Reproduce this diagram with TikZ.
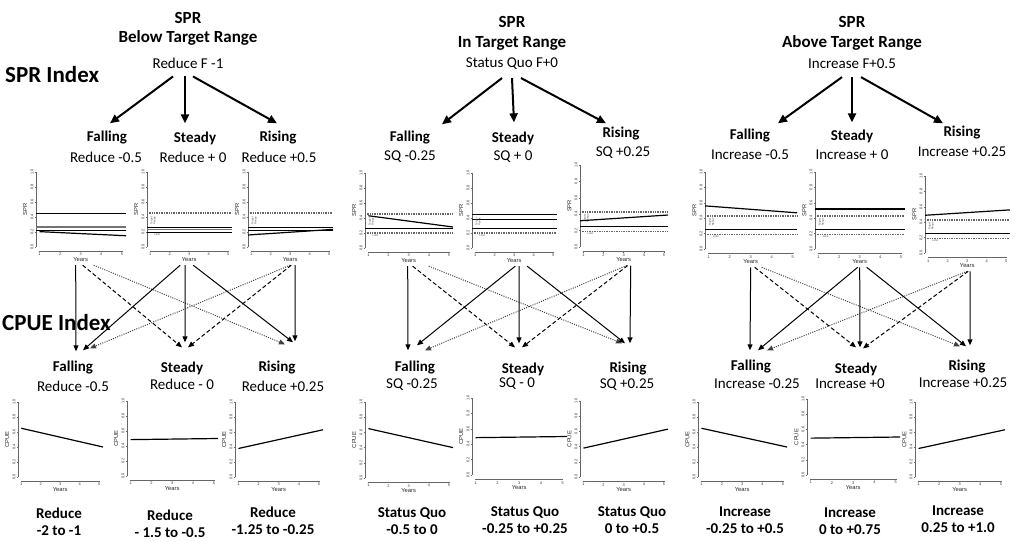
\documentclass[tikz,border=0pt]{standalone}
\usepackage{fontspec}
\setmainfont{Carlito}
\newfontfamily\plotfont{Liberation Sans}
\usepackage{tikz}
\usetikzlibrary{arrows.meta}

\tikzset{
  ttl/.style={font=\bfseries\fontsize{17}{20}\selectfont, inner sep=1pt},
  idx/.style={font=\bfseries\fontsize{23}{26}\selectfont, inner sep=0pt, anchor=west},
  act/.style={font=\fontsize{15}{18}\selectfont, inner sep=1pt},
  trend/.style={font=\bfseries\fontsize{15}{18}\selectfont, inner sep=1pt},
  adj/.style={font=\fontsize{15}{18}\selectfont, inner sep=1pt},
  rule/.style={font=\bfseries\fontsize{15}{17}\selectfont, inner sep=1pt, align=center},
  bigarr/.style={line width=2pt, -{Triangle[length=9pt,width=8pt]}},
  solidarr/.style={line width=1pt, -{Triangle[length=6pt,width=5pt]}},
  dasharr/.style={solidarr, dash pattern=on 4pt off 2.5pt},
  dotarr/.style={solidarr, black!75, dash pattern=on 1pt off 1.3pt},
  axisln/.style={black!60, line width=0.45pt},
  ticktxt/.style={font=\plotfont\fontsize{3.9}{4.5}\selectfont, text=black!80, inner sep=0.3pt},
  axtxt/.style={font=\plotfont\fontsize{5.8}{6.5}\selectfont, text=black!85, inner sep=0.5pt},
  notetxt/.style={font=\plotfont\fontsize{2.6}{3}\selectfont, text=black!75, inner sep=0.2pt},
  trendln/.style={line width=1.2pt, black},
  refsolid/.style={line width=1pt, black},
  refgray/.style={line width=1.3pt, black!55},
  refdot/.style={line width=1.7pt, black!60, dash pattern=on 1pt off 0.7pt}
}

% small R-style chart: name, left x, zero line y, width, height, y title, lines
\newcommand{\minichart}[7]{%
  \pgfmathsetmacro{\chux}{#4/4.37}%
  \pgfmathsetmacro{\chx}{#2-0.83*\chux}%
  \begin{scope}[shift={(\chx,#3)}, x=\chux pt, y=#5 pt]
    \draw[axisln] (0.83,0) -- (0.83,1);
    \foreach \i/\ticklab in {0/0.0,1/0.2,2/0.4,3/0.6,4/0.8,5/1.0}{
      \draw[axisln] (0.83,\i/5) -- ++(-1.5pt,0pt);
      \node[ticktxt, rotate=90, anchor=south] (#1-y\i) at ([xshift=-2pt]0.83,\i/5) {\ticklab};
    }
    \draw[axisln] (1,-0.05) -- (5,-0.05);
    \foreach \i in {1,...,5}{
      \draw[axisln] (\i,-0.05) -- ++(0pt,-1.5pt);
      \node[ticktxt, anchor=north] (#1-x\i) at ([yshift=-2pt]\i,-0.05) {\i};
    }
    \node[axtxt, anchor=north] (#1-yr) at ([yshift=-6pt]3,-0.05) {Years};
    \node[axtxt, rotate=90, anchor=south] (#1-lab) at ([xshift=-8pt]0.83,0.5) {#6};
    #7
  \end{scope}}
\newcommand{\refat}[2]{\draw[#1] (0.83,#2) -- (5.2,#2);}
\newcommand{\sprnotes}[1]{%
  \node[notetxt, rotate=90, align=center] (#1-tr) at (1.15,0.35) {Target\\Range};
  \node[notetxt] (#1-lim) at (1.35,0.165) {Limit};}

\begin{document}
\begin{tikzpicture}[x=1pt, y=-1pt]
\useasboundingbox (0,0) rectangle (1017,541);

% titles
\node[ttl] (ttlA) at (188,18) {SPR};
\node[ttl] (rngA) at (188,38) {Below Target Range};
\node[act] (actA) at (188,63) {Reduce F -1};
\node[ttl] (ttlB) at (512,22) {SPR};
\node[ttl] (rngB) at (512,43) {In Target Range};
\node[act] (actB) at (512,64) {Status Quo F+0};
\node[ttl] (ttlC) at (852,22) {SPR};
\node[ttl] (rngC) at (852,43) {Above Target Range};
\node[act] (actC) at (852,64) {Increase F+0.5};

\node[idx] (sprIdx) at (5,75) {SPR Index};
\node[idx] (cpueIdx) at (2,323) {CPUE Index};

% SPR trends
\node[trend] (trA1) at (107,138) {Falling};
\node[adj] (avA1) at (106,157) {Reduce -0.5};
\node[trend] (trA2) at (195,138) {Steady};
\node[adj] (avA2) at (193,157) {Reduce + 0};
\node[trend] (trA3) at (278,138) {Rising};
\node[adj] (avA3) at (279,157) {Reduce +0.5};
\node[trend] (trB1) at (410,138) {Falling};
\node[adj] (avB1) at (410,157) {SQ -0.25};
\node[trend] (trB2) at (513,138) {Steady};
\node[adj] (avB2) at (513,157) {SQ + 0};
\node[trend] (trB3) at (621,134) {Rising};
\node[adj] (avB3) at (623,153) {SQ +0.25};
\node[trend] (trC1) at (750,136) {Falling};
\node[adj] (avC1) at (750,155) {Increase -0.5};
\node[trend] (trC2) at (852,136) {Steady};
\node[adj] (avC2) at (852,155) {Increase + 0};
\node[trend] (trC3) at (962,133) {Rising};
\node[adj] (avC3) at (962,152) {Increase +0.25};

\foreach \s/\sx/\d/\dx/\dy in {actA/-15/trA1/3/7, actA/-3/trA2/-10/7, actA/5/trA3/-1/7,
    actB/-10/trB1/32/6, actB/0/trB2/1/8, actB/9/trB3/-15/3,
    actC/-10/trC1/28/5, actC/0/trC2/0/6, actC/9/trC3/-19/2}
  \draw[bigarr] ([xshift=\sx pt,yshift=-7pt]\s.south) -- ([xshift=\dx pt,yshift=\dy pt]\d.north);

% SPR charts
\minichart{sprA1}{36}{247}{90}{75}{SPR}{%
  \refat{refsolid}{0.45} \refat{refgray}{0.265} \refat{refsolid}{0.215}
  \draw[trendln] (1,0.205) -- (5.2,0.15);}
\minichart{sprA2}{147}{247}{85}{75}{SPR}{%
  \refat{refdot}{0.45} \refat{refsolid}{0.265} \refat{refgray}{0.237} \refat{refsolid}{0.2}
  \sprnotes{sprA2}}
\minichart{sprA3}{248}{247}{85}{75}{SPR}{%
  \refat{refdot}{0.45} \refat{refsolid}{0.265} \refat{refsolid}{0.215}
  \draw[trendln] (0.83,0.16) -- (5.2,0.235);
  \sprnotes{sprA3}}
\minichart{sprB1}{365}{248}{88}{75}{SPR}{%
  \refat{refdot}{0.45} \refat{refsolid}{0.265} \refat{refdot}{0.2}
  \draw[trendln] (1,0.43) -- (5.2,0.28);
  \sprnotes{sprB1}}
\minichart{sprB2}{472}{248}{85}{75}{SPR}{%
  \refat{refsolid}{0.45} \refat{trendln}{0.38} \refat{refsolid}{0.265} \refat{refdot}{0.2}
  \sprnotes{sprB2}}
\minichart{sprB3}{580}{247}{88}{82}{SPR}{%
  \refat{refdot}{0.43} \refat{refsolid}{0.25} \refat{refdot}{0.19}
  \draw[trendln] (0.83,0.32) -- (5.2,0.39);
  \sprnotes{sprB3}}
\minichart{sprC1}{705}{249}{92}{77}{SPR}{%
  \refat{refdot}{0.43} \refat{refsolid}{0.25} \refat{refdot}{0.19}
  \draw[trendln] (0.83,0.56) -- (5.2,0.47);
  \sprnotes{sprC1}}
\minichart{sprC2}{815}{249}{90}{77}{SPR}{%
  \refat{trendln}{0.52} \refat{refdot}{0.43} \refat{refsolid}{0.25} \refat{refdot}{0.19}
  \sprnotes{sprC2}}
\minichart{sprC3}{925}{253}{85}{77}{SPR}{%
  \refat{refdot}{0.43} \refat{refsolid}{0.25} \refat{refdot}{0.19}
  \draw[trendln] (0.83,0.49) -- (5.2,0.56);
  \sprnotes{sprC3}}

% CPUE trends
\node[trend] (ctA1) at (73,368) {Falling};
\node[adj] (cvA1) at (73,386) {Reduce -0.5};
\node[trend] (ctA2) at (182,368) {Steady};
\node[adj] (cvA2) at (182,384) {Reduce - 0};
\node[trend] (ctA3) at (277,368) {Rising};
\node[adj] (cvA3) at (283,386) {Reduce +0.25};
\node[trend] (ctB1) at (415,368) {Falling};
\node[adj] (cvB1) at (412,385) {SQ -0.25};
\node[trend] (ctB2) at (523,369) {Steady};
\node[adj] (cvB2) at (517,384) {SQ - 0};
\node[trend] (ctB3) at (628,369) {Rising};
\node[adj] (cvB3) at (627,385) {SQ +0.25};
\node[trend] (ctC1) at (751,367) {Falling};
\node[adj] (cvC1) at (757,384) {Increase -0.25};
\node[trend] (ctC2) at (856,369) {Steady};
\node[adj] (cvC2) at (850,384) {Increase +0};
\node[trend] (ctC3) at (967,367) {Rising};
\node[adj] (cvC3) at (963,383) {Increase +0.25};

% links SPR -> CPUE
\foreach \s/\sx/\d/\dx/\dy/\sty in {
    sprA1-yr/-5/ctA1/3/9/solidarr, sprA1-yr/2/ctA2/0/13/dasharr, sprA1-yr/13/ctA3/8/16/dotarr,
    sprA2-yr/-9/ctA1/10/10/solidarr, sprA2-yr/-4/ctA2/3/18/solidarr, sprA2-yr/4/ctA3/16/18/solidarr,
    sprA3-yr/0/ctA1/17/12/dotarr, sprA3-yr/1/ctA2/6/13/dasharr, sprA3-yr/5/ctA3/18/19/solidarr,
    sprB1-yr/-1/ctB1/-7/10/solidarr, sprB1-yr/4/ctB2/-8/14/dasharr, sprB1-yr/20/ctB3/-6/18/dotarr,
    sprB2-yr/1/ctB1/2/15/solidarr, sprB2-yr/5/ctB2/-4/18/solidarr, sprB2-yr/13/ctB3/-3/18/solidarr,
    sprB3-yr/3/ctB1/10/10/dotarr, sprB3-yr/4/ctB2/-1/14/dasharr, sprB3-yr/7/ctB3/2/18/solidarr,
    sprC1-yr/0/ctC1/-1/9/solidarr, sprC1-yr/4/ctC2/0/14/dasharr, sprC1-yr/11/ctC3/-7/13/dotarr,
    sprC2-yr/-2/ctC1/7/9/solidarr, sprC2-yr/0/ctC2/4/14/solidarr, sprC2-yr/7/ctC3/-1/13/solidarr,
    sprC3-yr/0/ctC1/16/9/dotarr, sprC3-yr/1/ctC2/7/13/dasharr, sprC3-yr/3/ctC3/3/14/solidarr}
  \draw[\sty] ([xshift=\sx pt,yshift=-3pt]\s.south) -- ([xshift=\dx pt,yshift=\dy pt]\d.north);

% CPUE charts
\minichart{cpA1}{18}{477}{85}{75}{CPUE}{\draw[trendln] (1,0.65) -- (5.2,0.40);}
\minichart{cpA2}{127}{476}{91}{75}{CPUE}{\draw[trendln] (1,0.485) -- (5.2,0.50);}
\minichart{cpA3}{235}{477}{88}{75}{CPUE}{\draw[trendln] (1,0.38) -- (5.2,0.63);}
\minichart{cpB1}{365}{478}{88}{76}{CPUE}{\draw[trendln] (1,0.65) -- (5.2,0.40);}
\minichart{cpB2}{472}{475}{95}{77}{CPUE}{\draw[trendln] (1,0.485) -- (5.2,0.50);}
\minichart{cpB3}{580}{477}{88}{76}{CPUE}{\draw[trendln] (1,0.38) -- (5.2,0.63);}
\minichart{cpC1}{698}{477}{89}{75}{CPUE}{\draw[trendln] (1,0.65) -- (5.2,0.40);}
\minichart{cpC2}{807}{475}{93}{76}{CPUE}{\draw[trendln] (1,0.485) -- (5.2,0.50);}
\minichart{cpC3}{915}{477}{90}{75}{CPUE}{\draw[trendln] (1,0.38) -- (5.2,0.63);}

% decision rules
\node[rule] (ruleA1) at (59,521.5) {Reduce\\-2 to -1};
\node[rule] (ruleA2) at (170,524) {Reduce\\- 1.5 to -0.5};
\node[rule] (ruleA3) at (273,521) {Reduce\\-1.25 to -0.25};
\node[rule] (ruleB1) at (412,521) {Status Quo\\-0.5 to 0};
\node[rule] (ruleB2) at (525,520.5) {Status Quo\\-0.25 to +0.25};
\node[rule] (ruleB3) at (632,520.5) {Status Quo\\0 to +0.5};
\node[rule] (ruleC1) at (745,520.5) {Increase\\-0.25 to +0.5};
\node[rule] (ruleC2) at (850,521) {Increase\\0 to +0.75};
\node[rule] (ruleC3) at (958,519.5) {Increase\\0.25 to +1.0};
\end{tikzpicture}
\end{document}
